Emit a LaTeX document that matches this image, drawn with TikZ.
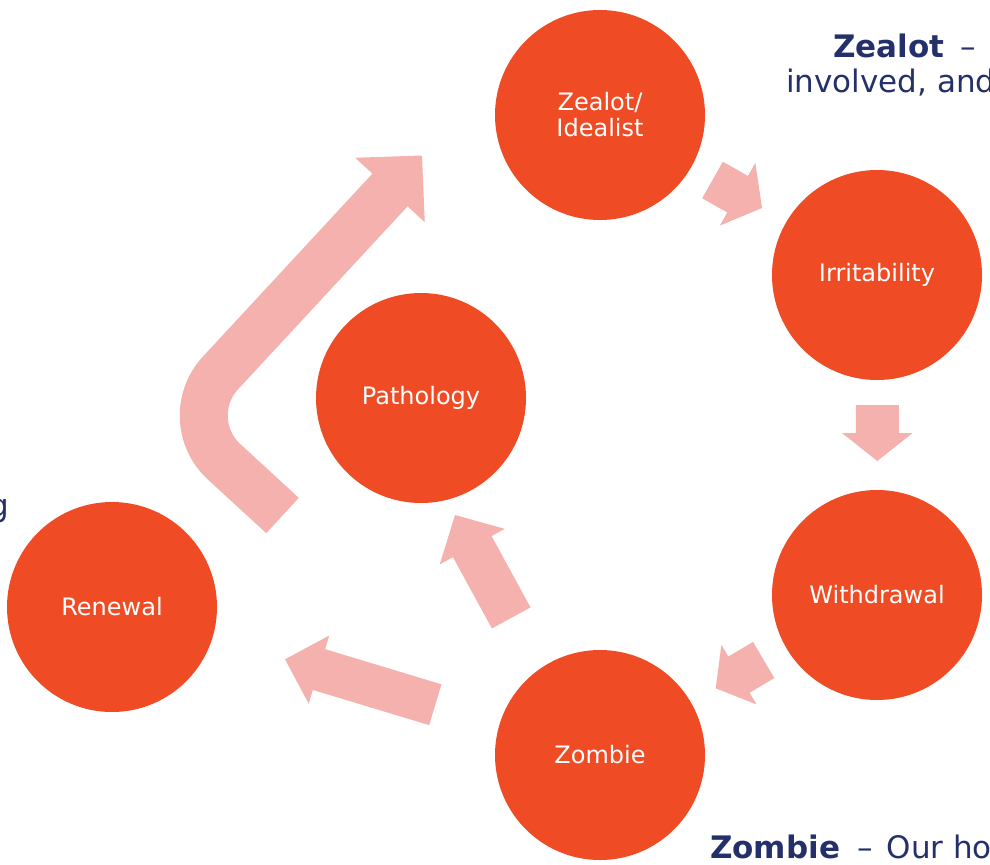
\documentclass[tikz,border=0pt]{standalone}
\usepackage{fontspec}
\setmainfont{DejaVu Sans}
\usetikzlibrary{calc}
\definecolor{circred}{HTML}{EF4B24}
\definecolor{arrpink}{HTML}{F4B1AD}
\definecolor{navy}{HTML}{24306A}
\tikzset{
  circ/.style={circle,fill=circred,minimum size=210bp,inner sep=0pt,text=white,align=center,font=\fontsize{24bp}{26bp}\selectfont},
  side/.style={inner sep=0pt,anchor=base west,text=navy,font=\fontsize{31bp}{36bp}\selectfont},
  arrfill/.style={fill=arrpink},
}
% #1 tail, #2 tip, #3 shaft half width, #4 head half width, #5 head length
\newcommand\blockarrow[5]{%
  \coordinate (ba-B) at ($(#2)!#5!(#1)$);
  \fill[arrfill] ($(#1)!#3!90:(#2)$) -- ($(ba-B)!#3!90:(#2)$) -- ($(ba-B)!#4!90:(#2)$) -- (#2)
     -- ($(ba-B)!#4!-90:(#2)$) -- ($(ba-B)!#3!-90:(#2)$) -- ($(#1)!#3!-90:(#2)$) -- cycle;
}
\begin{document}
\begin{tikzpicture}[x=1bp,y=-1bp]
\useasboundingbox (0,0) rectangle (990,865);
\clip (0,0) rectangle (990,865);

% circles
\node[circ] (zeal) at (600,115) {Zealot/\\Idealist};
\node[circ] (irr) at (877,275) {Irritability};
\node[circ] (wd) at (877,595) {Withdrawal};
\node[circ] (zomb) at (600,755) {Zombie};
\node[circ] (ren) at (112,607) {Renewal};
\node[circ] (path) at (421,398) {Pathology};

% small block arrows
\coordinate (a1t) at (712.5,180); \coordinate (a1p) at (762,208);
\blockarrow{a1t}{a1p}{21bp}{36bp}{28bp}
\coordinate (a2t) at (877.3,405); \coordinate (a2p) at (877.3,461);
\blockarrow{a2t}{a2p}{21.5bp}{35.3bp}{28bp}
\coordinate (a3t) at (763.7,660); \coordinate (a3p) at (715.7,688.3);
\blockarrow{a3t}{a3p}{21bp}{34.6bp}{27bp}
\coordinate (a4t) at (435.3,704.7); \coordinate (a4p) at (285,659.3);
\blockarrow{a4t}{a4p}{21.3bp}{35.6bp}{35.5bp}
\coordinate (a5t) at (511.2,617.9); \coordinate (a5p) at (455,515);
\blockarrow{a5t}{a5p}{22bp}{37bp}{36bp}

% big bent arrow
\coordinate (bt) at (282.5,515.5);
\coordinate (bc) at (177.7,419.1);
\coordinate (bb) at (390,190);
\coordinate (btip) at (422,155.5);
\draw[arrpink,line width=48bp,rounded corners=63bp] (bt) -- (bc) -- ($(bb)!1bp!(btip)$);
\fill[arrfill] ($(bb)!47.4bp!90:(btip)$) -- (btip) -- ($(bb)!47.4bp!-90:(btip)$) -- cycle;

% side texts (cut by the frame, as in the reference)
\node[side] (zt) at (833,57) {\textbf{Zealot}\hspace{16bp}–};
\node[side] (zt2) at (786,92) {involved, and};
\node[side] (zb) at (710,858) {\textbf{Zombie}\hspace{17bp}–\hspace{14bp}Our ho};
\node[side,anchor=base east] (gg) at (9.5,516) {g};
\end{tikzpicture}
\end{document}
